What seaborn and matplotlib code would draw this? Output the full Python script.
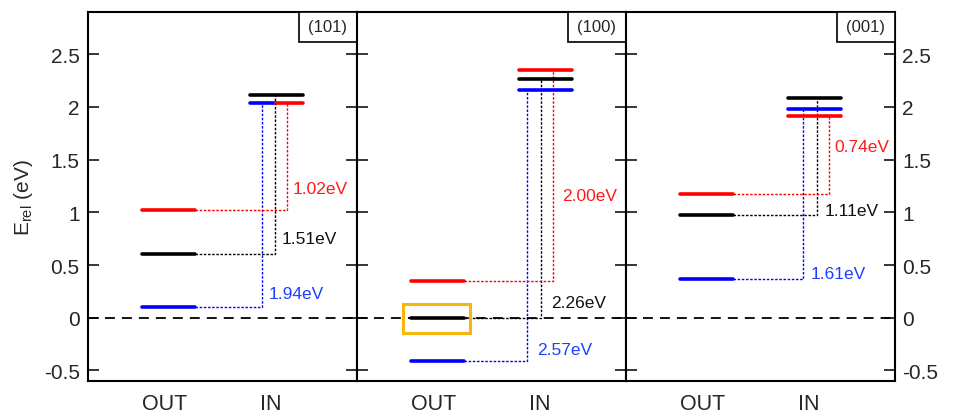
import matplotlib.pyplot as plt
import matplotlib.patches as mpatches
import pandas as pd
import seaborn as sns

# surface facets and the two adsorption states
facets = ["(101)", "(100)", "(001)"]
states = ["OUT", "IN"]
series = ["blue", "black", "red"]

# relative energies (eV), one value per facet
out_blue = [0.10, -0.41, 0.37]
out_black = [0.60, 0.00, 0.97]
out_red = [1.02, 0.35, 1.17]
in_blue = [2.04, 2.16, 1.98]
in_black = [2.11, 2.26, 2.08]
in_red = [2.04, 2.35, 1.91]

# barrier labels
gap_blue = ["1.94eV", "2.57eV", "1.61eV"]
gap_black = ["1.51eV", "2.26eV", "1.11eV"]
gap_red = ["1.02eV", "2.00eV", "0.74eV"]

yticks = [-0.5, 0, 0.5, 1, 1.5, 2, 2.5]

# layout of the diagram (not data)
OUT_SPAN = (0.782, 1.284)
IN_SPAN = (1.806, 2.308)
CONNECT_X = [[1.917, 2.045, 2.159], [1.884, 2.017, 2.131], [1.945, 2.083, 2.197]]
LABEL_X = [[1.979, 2.106, 2.210], [1.973, 2.106, 2.210], [2.024, 2.156, 2.245]]
LABEL_Y = [[0.23, 0.75, 1.23], [-0.30, 0.14, 1.16], [0.42, 1.02, 1.62]]
LINE_COLORS = {"blue": "#0000ff", "black": "#000000", "red": "#ff0000"}
TEXT_COLORS = {"blue": "#1f3fff", "black": "#111111", "red": "#ff1a1a"}


def level_frame(i: int) -> pd.DataFrame:
    outs = {"blue": out_blue[i], "black": out_black[i], "red": out_red[i]}
    ins = {"blue": in_blue[i], "black": in_black[i], "red": in_red[i]}
    rows = []
    seg = 0
    for name in series:
        for x in OUT_SPAN:
            rows.append({"seg": seg, "x": x, "E": outs[name], "color": name})
        seg += 1
    # levels at the same energy share the IN slot side by side
    groups = {}
    for name in series:
        groups.setdefault(round(ins[name], 3), []).append(name)
    for energy, names in groups.items():
        width = (IN_SPAN[1] - IN_SPAN[0]) / len(names)
        for k, name in enumerate(names):
            x0 = IN_SPAN[0] + k * width
            for x in (x0, x0 + width):
                rows.append({"seg": seg, "x": x, "E": energy, "color": name})
            seg += 1
    return pd.DataFrame(rows)


def draw_panel(ax, i: int) -> None:
    outs = [out_blue[i], out_black[i], out_red[i]]
    ins = [in_blue[i], in_black[i], in_red[i]]
    gaps = [gap_blue[i], gap_black[i], gap_red[i]]

    ax.axhline(0, color="black", lw=1.3, ls=(0, (5.5, 3.9)), zorder=1)
    for k, name in enumerate(series):
        cx = CONNECT_X[i][k]
        ax.plot([OUT_SPAN[1], cx, cx], [outs[k], outs[k], ins[k]],
                color=LINE_COLORS[name], lw=1.0, ls=(0, (1.8, 1.2)), zorder=2)
        ax.text(LABEL_X[i][k], LABEL_Y[i][k], gaps[k], color=TEXT_COLORS[name],
                fontsize=12.5, ha="left", va="center")

    sns.lineplot(data=level_frame(i), x="x", y="E", hue="color", units="seg",
                 estimator=None, sort=False, palette=LINE_COLORS, lw=2.6,
                 legend=False, ax=ax, zorder=3)

    if facets[i] == "(100)":
        ax.add_patch(mpatches.Rectangle((0.71, -0.14), 0.63, 0.273, fill=False,
                                        edgecolor="#f6b60c", lw=2.2, zorder=4))

    ax.add_patch(mpatches.Rectangle((1 - 0.2156, 1 - 0.0813), 0.2156, 0.0813,
                                    transform=ax.transAxes, facecolor="white",
                                    edgecolor="black", lw=1.2, zorder=5, clip_on=False))
    ax.text(1 - 0.1078, 1 - 0.0406, facets[i], transform=ax.transAxes,
            fontsize=12, ha="center", va="center", zorder=6)

    ax.set_xlim(0.27, 2.82)
    ax.set_ylim(-0.6, 2.9)
    ax.set_xticks([1, 2])
    ax.set_xticklabels(states, fontsize=15.5)
    ax.set_yticks(yticks)
    ax.set_xlabel("")
    ax.set_ylabel("")
    ax.tick_params(axis="x", length=0, pad=9)
    ax.tick_params(axis="y", direction="in", length=8, width=1.3,
                   left=True, right=True, labelleft=False, labelright=False)
    for spine in ax.spines.values():
        spine.set_visible(True)
        spine.set_linewidth(1.5)
        spine.set_color("black")


def main() -> None:
    sns.set_theme(style="ticks")
    plt.rcParams["font.family"] = ["Liberation Sans", "DejaVu Sans"]
    plt.rcParams["mathtext.default"] = "regular"

    fig, axes = plt.subplots(1, 3, figsize=(9.69, 4.14), dpi=100, sharey=True)
    fig.subplots_adjust(left=0.0908, right=0.9236, top=0.9686, bottom=0.0773, wspace=0)

    for i, ax in enumerate(axes):
        draw_panel(ax, i)

    tick_text = ["-0.5", "0", "0.5", "1", "1.5", "2", "2.5"]
    axes[0].tick_params(axis="y", labelleft=True, labelsize=15, pad=6)
    axes[0].set_yticklabels(tick_text)
    axes[0].set_ylabel("E$_{rel}$ (eV)", fontsize=15, labelpad=6)

    axes[2].tick_params(axis="y", labelright=True, labelsize=15, pad=5)
    axes[2].yaxis.set_label_position("right")
    axes[2].set_ylabel("E$_{rel}$(eV)", fontsize=15, labelpad=8, rotation=90)

    fig.savefig("out.png", dpi=100)
    plt.close(fig)


if __name__ == "__main__":
    main()
